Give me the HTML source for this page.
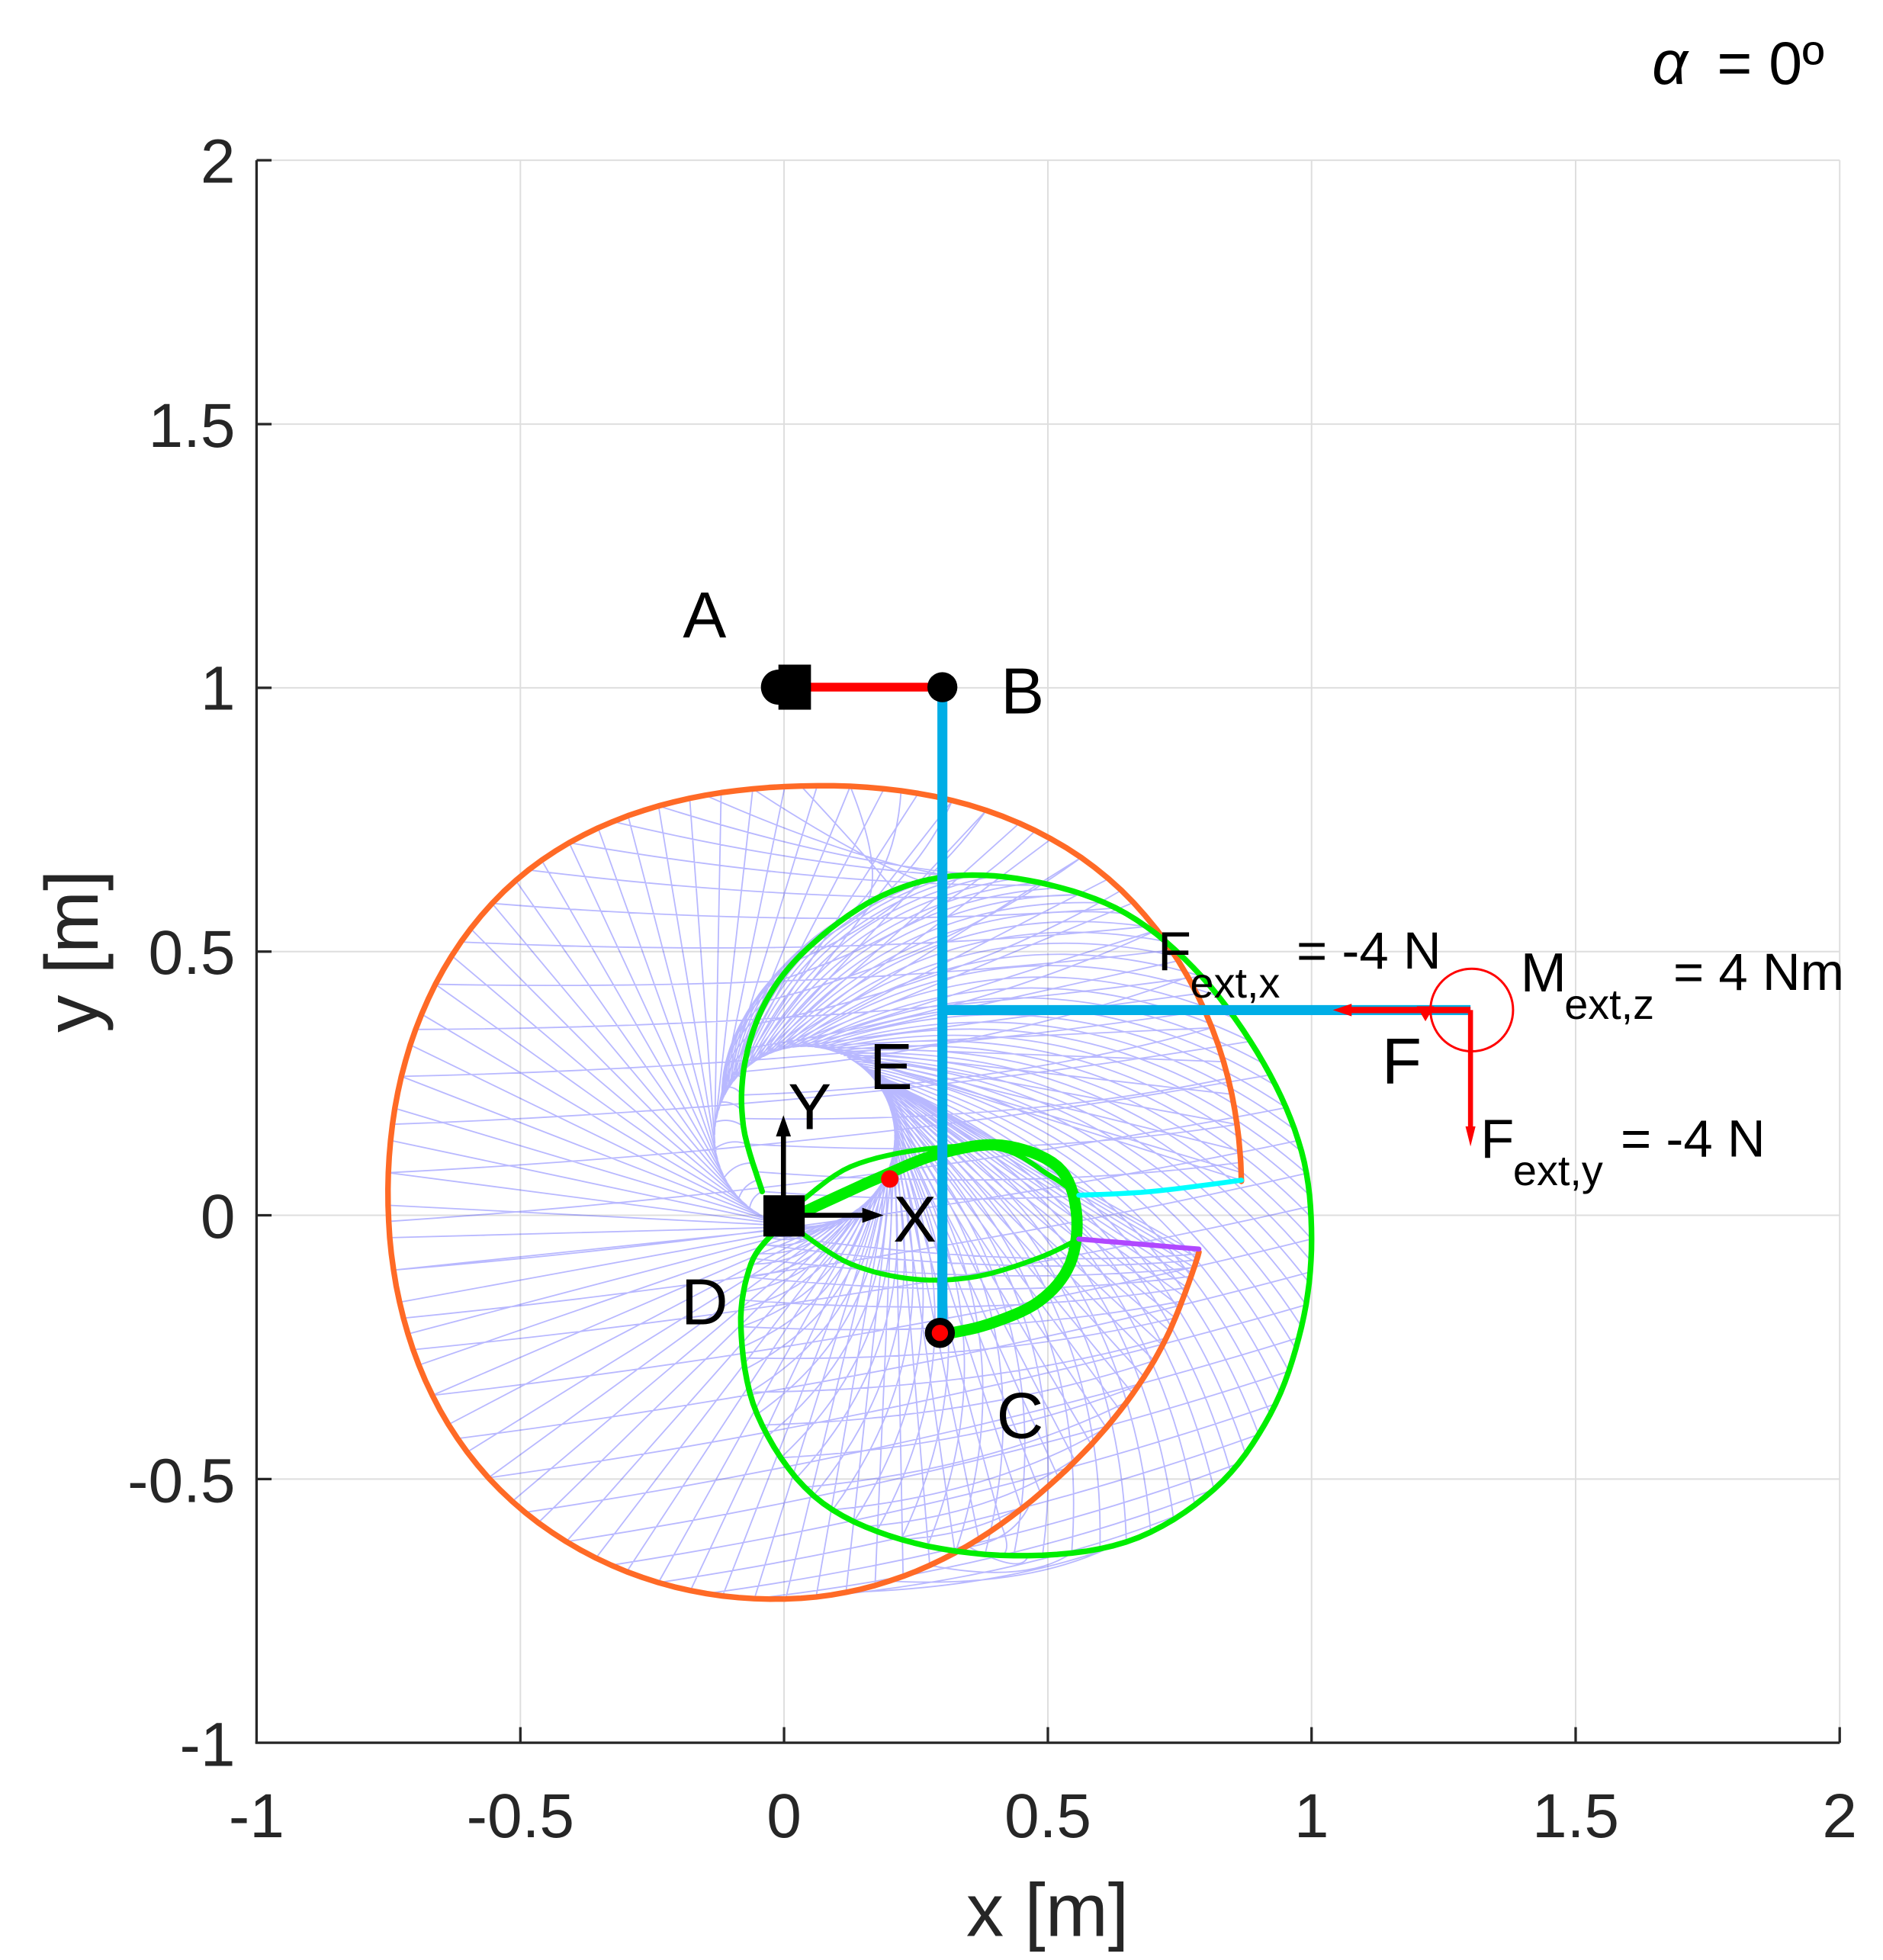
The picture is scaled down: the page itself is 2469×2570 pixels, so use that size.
<!DOCTYPE html>
<html><head><meta charset="utf-8">
<style>
html,body{margin:0;padding:0;background:#fff;}
svg{display:block;}
text{font-family:"Liberation Sans",Arial,sans-serif;}
</style></head>
<body>
<svg id="s" width="2469" height="2570" viewBox="0 0 1504.6 1566" xmlns="http://www.w3.org/2000/svg">
<rect width="1504.6" height="1566" fill="#fff"/>
<g stroke="#dedede" stroke-width="1.2">
<line x1="415.8" y1="128" x2="415.8" y2="1392.5"/><line x1="626.5" y1="128" x2="626.5" y2="1392.5"/>
<line x1="837.3" y1="128" x2="837.3" y2="1392.5"/><line x1="1048" y1="128" x2="1048" y2="1392.5"/>
<line x1="1259" y1="128" x2="1259" y2="1392.5"/><line x1="1470" y1="128" x2="1470" y2="1392.5"/>
<line x1="205" y1="128" x2="1470" y2="128"/><line x1="205" y1="338.8" x2="1470" y2="338.8"/>
<line x1="205" y1="549.5" x2="1470" y2="549.5"/><line x1="205" y1="760.3" x2="1470" y2="760.3"/>
<line x1="205" y1="971" x2="1470" y2="971"/><line x1="205" y1="1181.8" x2="1470" y2="1181.8"/>
</g>
<g id="mesh" fill="none" stroke="#0000ff" stroke-opacity="0.28" stroke-width="1.1"></g>
<g id="curves" fill="none"></g>
<line x1="626" y1="549" x2="753" y2="549" stroke="#ff0000" stroke-width="7"/>
<circle cx="622" cy="549" r="14" fill="#000"/>
<rect x="622" y="531" width="26" height="36" fill="#000"/>
<line x1="753" y1="553" x2="753" y2="1063" stroke="#00aee6" stroke-width="8"/>
<line x1="753" y1="807" x2="1175" y2="807" stroke="#00aee6" stroke-width="8"/>
<circle cx="753" cy="549" r="12" fill="#000"/>
<line x1="1175" y1="807" x2="1075" y2="807" stroke="#ff0000" stroke-width="5"/>
<polygon points="1065,807 1080,802 1080,812" fill="#ff0000"/>
<polygon points="1132,804 1146,804 1139,816" fill="#ff0000"/>
<line x1="1175" y1="807" x2="1175" y2="905" stroke="#ff0000" stroke-width="4"/>
<polygon points="1175,916 1171,900 1179,900" fill="#ff0000"/>
<circle cx="1176" cy="807" r="33" fill="none" stroke="#ff0000" stroke-width="1.8"/>
<circle cx="711" cy="942" r="7" fill="#ff0000"/>
<circle cx="751" cy="1065" r="12" fill="#000"/>
<circle cx="751" cy="1065" r="6.5" fill="#ff0000"/>
<rect x="610" y="955" width="33" height="33" fill="#000"/>
<line x1="626" y1="960" x2="626" y2="903" stroke="#000" stroke-width="4"/>
<polygon points="626,891 620,908 632,908" fill="#000"/>
<line x1="640" y1="971" x2="693" y2="971" stroke="#000" stroke-width="4"/>
<polygon points="706,971 689,965 689,977" fill="#000"/>
<g stroke="#262626" stroke-width="2">
<line x1="205" y1="128" x2="205" y2="1393"/><line x1="204" y1="1392.5" x2="1470" y2="1392.5"/>
<line x1="415.8" y1="1392.5" x2="415.8" y2="1380"/><line x1="626.5" y1="1392.5" x2="626.5" y2="1380"/>
<line x1="837.3" y1="1392.5" x2="837.3" y2="1380"/><line x1="1048" y1="1392.5" x2="1048" y2="1380"/>
<line x1="1259" y1="1392.5" x2="1259" y2="1380"/><line x1="1470" y1="1392.5" x2="1470" y2="1380"/>
<line x1="205" y1="128" x2="217" y2="128"/><line x1="205" y1="338.8" x2="217" y2="338.8"/>
<line x1="205" y1="549.5" x2="217" y2="549.5"/><line x1="205" y1="760.3" x2="217" y2="760.3"/>
<line x1="205" y1="971" x2="217" y2="971"/><line x1="205" y1="1181.8" x2="217" y2="1181.8"/>
</g>
<g fill="#262626" font-size="50" text-anchor="middle">
<text x="205" y="1468">-1</text><text x="415.8" y="1468">-0.5</text><text x="626.5" y="1468">0</text>
<text x="837.3" y="1468">0.5</text><text x="1048" y="1468">1</text><text x="1259" y="1468">1.5</text><text x="1470" y="1468">2</text>
</g>
<g fill="#262626" font-size="50" text-anchor="end">
<text x="188" y="146">2</text><text x="188" y="357">1.5</text><text x="188" y="567">1</text>
<text x="188" y="778">0.5</text><text x="188" y="989">0</text><text x="188" y="1200">-0.5</text><text x="188" y="1411">-1</text>
</g>
<text x="837" y="1547" font-size="60" fill="#262626" text-anchor="middle">x [m]</text>
<text transform="translate(78,760) rotate(-90)" font-size="60" fill="#262626" text-anchor="middle">y [m]</text>
<g fill="#000" font-size="52" text-anchor="middle">
<text x="563" y="509">A</text><text x="817" y="570">B</text><text x="712" y="870">E</text>
<text x="647" y="902">Y</text><text x="731" y="992">X</text><text x="563" y="1058">D</text>
<text x="815" y="1149">C</text><text x="1120" y="866">F</text>
</g>
<g fill="#000">
<text x="925" y="775" font-size="44">F</text><text x="951" y="797" font-size="34">ext,x</text><text x="1036" y="774" font-size="42">= -4 N</text>
<text x="1215" y="792" font-size="44">M</text><text x="1250" y="814" font-size="34">ext,z</text><text x="1337" y="791" font-size="42">= 4 Nm</text>
<text x="1183" y="925" font-size="44">F</text><text x="1209" y="947" font-size="34">ext,y</text><text x="1295" y="924" font-size="42">= -4 N</text>
<text x="1320" y="67" font-size="50" font-style="italic" font-family="Liberation Serif,serif">α</text>
<text x="1372" y="67" font-size="48">= 0º</text>
</g>
</svg>
<script>
(function(){
var NS="http://www.w3.org/2000/svg";
function cr(pts,n){var out=[];for(var i=0;i<pts.length-1;i++){var p0=pts[Math.max(i-1,0)],p1=pts[i],p2=pts[i+1],p3=pts[Math.min(i+2,pts.length-1)];
for(var k=0;k<n;k++){var t=k/n,t2=t*t,t3=t2*t;
out.push([0.5*(2*p1[0]+(-p0[0]+p2[0])*t+(2*p0[0]-5*p1[0]+4*p2[0]-p3[0])*t2+(-p0[0]+3*p1[0]-3*p2[0]+p3[0])*t3),
0.5*(2*p1[1]+(-p0[1]+p2[1])*t+(2*p0[1]-5*p1[1]+4*p2[1]-p3[1])*t2+(-p0[1]+3*p1[1]-3*p2[1]+p3[1])*t3)]);}}
out.push(pts[pts.length-1]);return out;}
function d(a){return "M"+a.map(function(p){return p[0].toFixed(1)+","+p[1].toFixed(1)}).join("L");}
function add(g,dd,c,w){var p=document.createElementNS(NS,"path");p.setAttribute("d",dd);if(c)p.setAttribute("stroke",c);if(w)p.setAttribute("stroke-width",w);p.setAttribute("stroke-linecap","round");p.setAttribute("stroke-linejoin","round");g.appendChild(p);}
// orange via polar r(theta)
var knots=[[1,352],[43,350],[90,322],[135,336],[180,330],[225,340],[270,327],[310,309],[340,316],[351,322]];
var rk=cr(knots,20);var O=[];
for(var i=0;i<rk.length;i++){var th=rk[i][0]*Math.PI/180,rr=rk[i][1];O.push([640+rr*Math.cos(th),950-rr*Math.sin(th)]);}
O.unshift([992,943]);
var green=[[609,952],[594,900],[595,850],[612,800],[645,758],[700,718],[760,700],[830,705],[900,730],[960,780],[1010,850],[1040,920],[1048,990],[1040,1060],[1015,1130],[970,1190],[900,1232],[810,1243],[720,1230],[650,1195],[605,1130],[592,1060],[600,1010],[618,985]];
var G=cr(green,8);
var mesh=document.getElementById("mesh"),cv=document.getElementById("curves");
var cx=643,cy=908,r=72;
function tang(P){var dx=P[0]-cx,dy=P[1]-cy,L=Math.sqrt(dx*dx+dy*dy);var a=Math.atan2(dy,dx),b=Math.acos(Math.min(1,r/L));var ang=a-b;return [cx+r*Math.cos(ang),cy+r*Math.sin(ang)];}
var md="";
var step=Math.max(1,Math.round(O.length/95));
for(var i=0;i<O.length;i+=step){var P=O[i],T=tang(P);md+="M"+P[0].toFixed(1)+","+P[1].toFixed(1)+"L"+T[0].toFixed(1)+","+T[1].toFixed(1);}
for(var j=0;j<G.length;j+=2){var P=G[j],T=tang(P);var mx=(P[0]+T[0])/2,my=(P[1]+T[1])/2;var nx=-(T[1]-P[1])*0.25,ny=(T[0]-P[0])*0.25;
md+="M"+P[0].toFixed(1)+","+P[1].toFixed(1)+"Q"+(mx+nx).toFixed(1)+","+(my+ny).toFixed(1)+" "+T[0].toFixed(1)+","+T[1].toFixed(1);}
for(var k=0;k<G.length;k+=3){var P=G[k],Q=O[Math.min(O.length-1,Math.round(k*O.length/G.length))];
md+="M"+P[0].toFixed(1)+","+P[1].toFixed(1)+"Q"+((P[0]+Q[0])/2+20).toFixed(1)+","+((P[1]+Q[1])/2+20).toFixed(1)+" "+Q[0].toFixed(1)+","+Q[1].toFixed(1);}
add(mesh,md);
add(cv,d(O),"#ff6a26",4.5);
add(cv,d(G),"#00ee00",4.5);
add(cv,d(cr([[643,968],[700,942],[750,922],[800,915],[845,932],[860,968],[855,1010],[830,1040],[790,1058],[755,1066]],8)),"#00ee00",9);
add(cv,d(cr([[640,960],[680,932],[740,918],[800,918],[840,940],[862,955]],8)),"#00ee00",4);
add(cv,d(cr([[640,985],[680,1010],[730,1022],[780,1020],[830,1005],[862,990]],8)),"#00ee00",4);
add(cv,d(cr([[862,955],[920,952],[992,943]],8)),"#00ffff",4);
add(cv,d(cr([[862,990],[910,994],[958,998]],8)),"#b048ff",4);
})();
</script>
</body></html>
